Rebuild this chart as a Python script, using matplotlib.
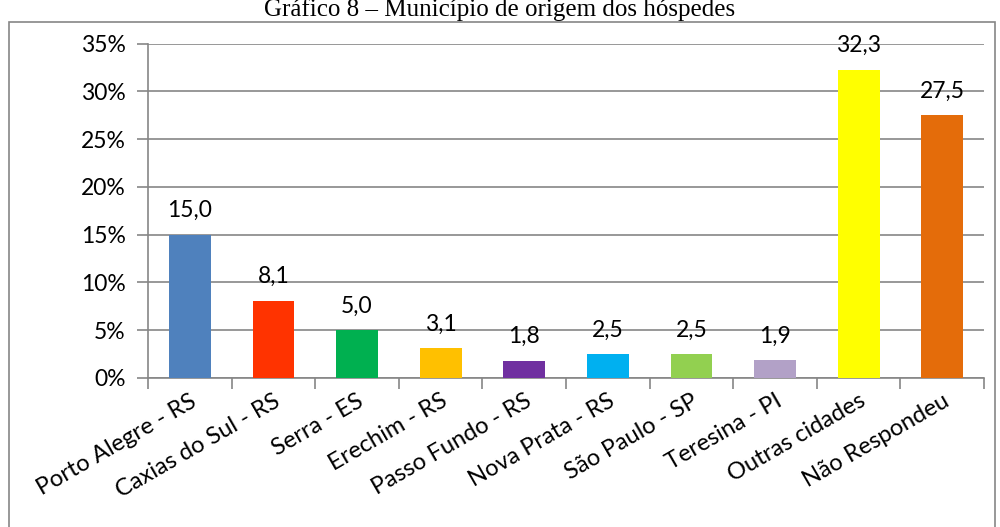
import matplotlib
matplotlib.use('Agg')
import matplotlib.pyplot as plt
from matplotlib.patches import Rectangle
from matplotlib.ticker import FuncFormatter

cidades = ['Porto Alegre - RS', 'Caxias do Sul - RS', 'Serra - ES', 'Erechim - RS',
           'Passo Fundo - RS', 'Nova Prata - RS', 'São Paulo - SP', 'Teresina - PI',
           'Outras cidades', 'Não Respondeu']
percentuais = [15.0, 8.1, 5.0, 3.1, 1.8, 2.5, 2.5, 1.9, 32.3, 27.5]
cores = ['#4F81BD', '#FF3300', '#00B050', '#FFC000', '#7030A0',
         '#00B0F0', '#92D050', '#B2A1C7', '#FFFF00', '#E46C0A']
yticks = [0, 5, 10, 15, 20, 25, 30, 35]

plt.rcParams['font.family'] = ['Lato', 'DejaVu Sans']
fig = plt.figure(figsize=(10, 5.27), dpi=100)
ax = fig.add_axes([0.148, 0.283, 0.836, 0.634])

x = range(len(cidades))
ax.bar(x, percentuais, width=0.5, color=cores, zorder=3)
for i, v in zip(x, percentuais):
    ax.text(i, v + 1.4, f'{v:.1f}'.replace('.', ','), ha='center', va='bottom', fontsize=16.5)

ax.set_xlim(-0.5, len(cidades) - 0.5)
ax.set_ylim(0, 35)
ax.set_yticks(yticks)
ax.yaxis.set_major_formatter(FuncFormatter(lambda v, p: f'{v:.0f}%'))
ax.grid(axis='y', color='#868686', linewidth=1.2, zorder=0)

ax.set_xticks([i + 0.5 for i in range(-1, len(cidades))])
ax.set_xticklabels([])
ax.set_xticks(list(x), minor=True)
ax.set_xticklabels(cidades, minor=True, rotation=30, ha='right', va='top',
                   rotation_mode='anchor', fontsize=17)
ax.tick_params(axis='x', which='minor', length=0, pad=9)
ax.tick_params(axis='x', which='major', length=8, color='#868686', width=1.2)
ax.tick_params(axis='y', length=8, color='#868686', width=1.2, labelsize=16.5, pad=8)

for s in ['top', 'right']:
    ax.spines[s].set_visible(False)
for s in ['left', 'bottom']:
    ax.spines[s].set_color('#868686')
    ax.spines[s].set_linewidth(1.2)

# moldura da área do gráfico
fig.patches.append(Rectangle((0.009, -0.01), 0.986, 0.968, transform=fig.transFigure,
                             fill=False, edgecolor='#868686', linewidth=1.2))
fig.text(0.5, 1 - 10 / 527, 'Gráfico 8 – Município de origem dos hóspedes', ha='center', va='center',
         fontsize=18, family='Liberation Serif')

plt.savefig('out.png', dpi=100)
